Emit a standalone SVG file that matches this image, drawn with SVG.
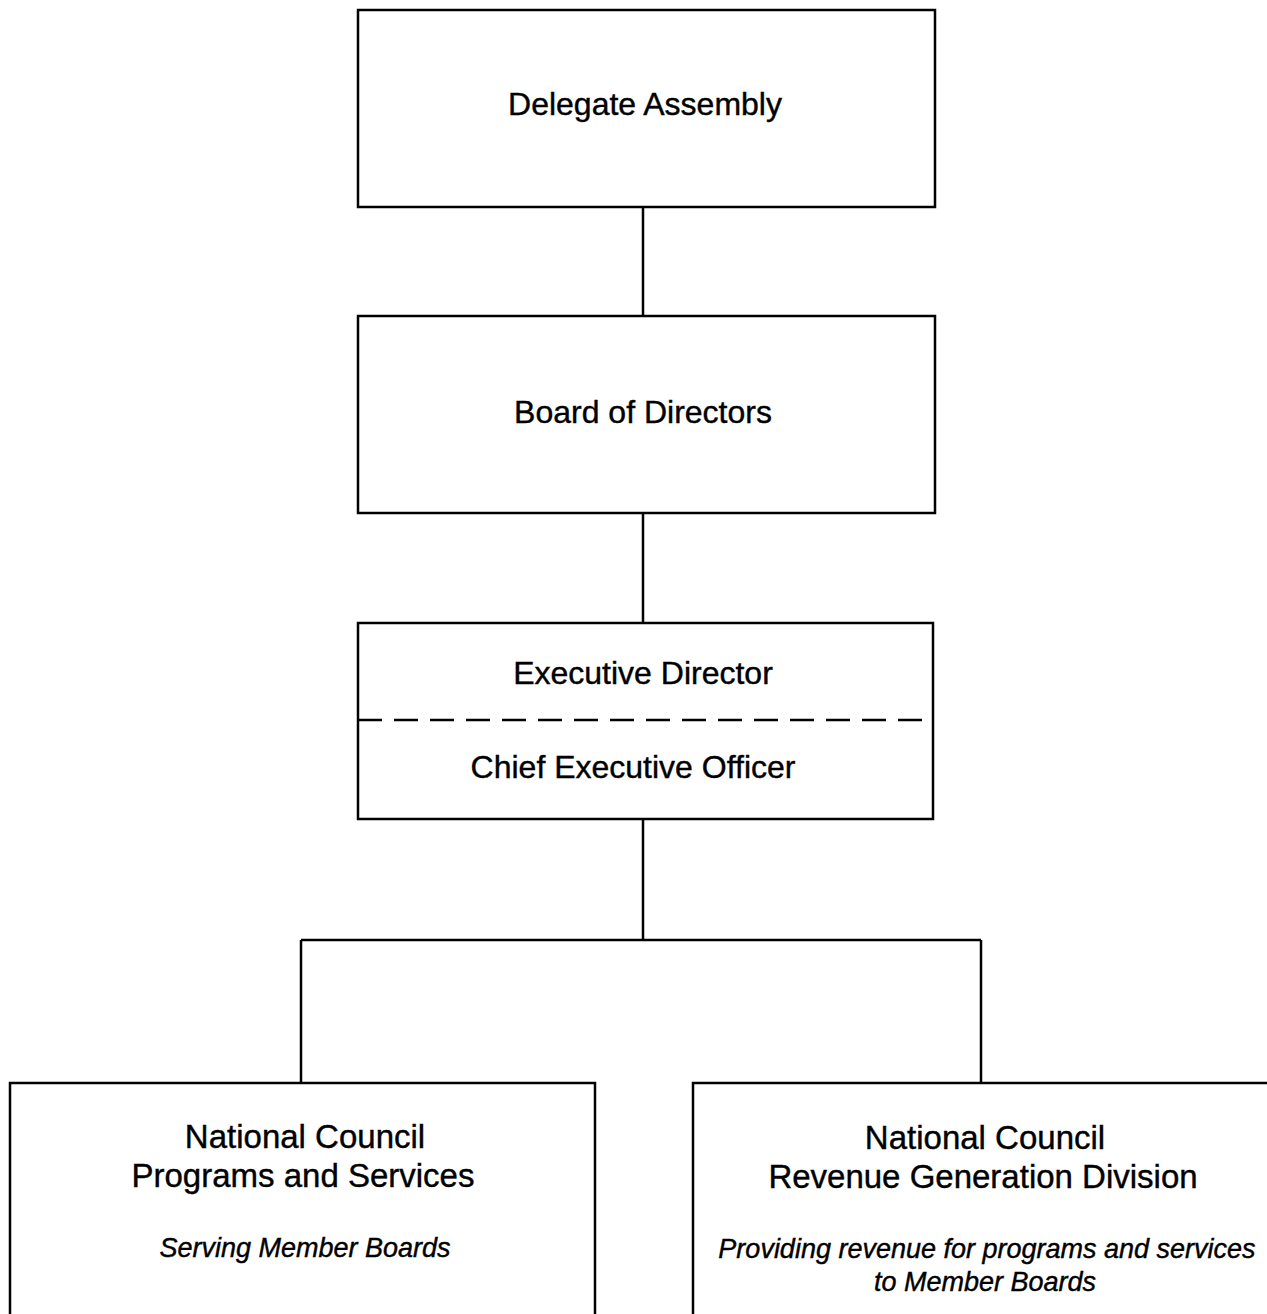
<svg xmlns="http://www.w3.org/2000/svg" width="1267" height="1314" viewBox="0 0 1267 1314">
<style>
.box{fill:#fff;stroke:#000;stroke-width:2.5}
.ln{fill:none;stroke:#000;stroke-width:2.5}
.t{font-family:"Liberation Sans",Arial,sans-serif;font-size:32px;fill:#000;stroke:#000;stroke-width:0.4;text-anchor:middle}
.b{font-family:"Liberation Sans",Arial,sans-serif;font-size:33px;fill:#000;stroke:#000;stroke-width:0.4;text-anchor:middle}
.i{font-family:"Liberation Sans",Arial,sans-serif;font-size:27px;font-style:italic;fill:#000;stroke:#000;stroke-width:0.4;text-anchor:middle}
</style>
<rect width="1267" height="1314" fill="#fff"/>
<g id="connectors">
<path class="ln" d="M643 207V316M643 513V623M643 819V940M301 940H981M301 940V1083M981 940V1083"/>
</g>
<g id="delegate-assembly">
<rect class="box" x="358" y="10" width="577" height="197"/>
<text class="t" x="645" y="115">Delegate Assembly</text>
</g>
<g id="board-of-directors">
<rect class="box" x="358" y="316" width="577" height="197"/>
<text class="t" x="643" y="423">Board of Directors</text>
</g>
<g id="executive-director">
<rect class="box" x="358" y="623" width="575" height="196"/>
<line x1="358" y1="720" x2="933" y2="720" stroke="#000" stroke-width="2.5" stroke-dasharray="24,12"/>
<text class="t" x="643" y="684">Executive Director</text>
<text class="t" x="633" y="778">Chief Executive Officer</text>
</g>
<g id="programs-and-services">
<rect class="box" x="10" y="1083" width="585" height="240"/>
<text class="b" x="305" y="1148">National Council</text>
<text class="b" x="303" y="1187">Programs and Services</text>
<text class="i" x="305" y="1257">Serving Member Boards</text>
</g>
<g id="revenue-generation">
<rect class="box" x="693" y="1083" width="585" height="240"/>
<text class="b" x="985" y="1149">National Council</text>
<text class="b" x="983" y="1188">Revenue Generation Division</text>
<text class="i" x="987" y="1258">Providing revenue for programs and services</text>
<text class="i" x="985" y="1291">to Member Boards</text>
</g>
</svg>
